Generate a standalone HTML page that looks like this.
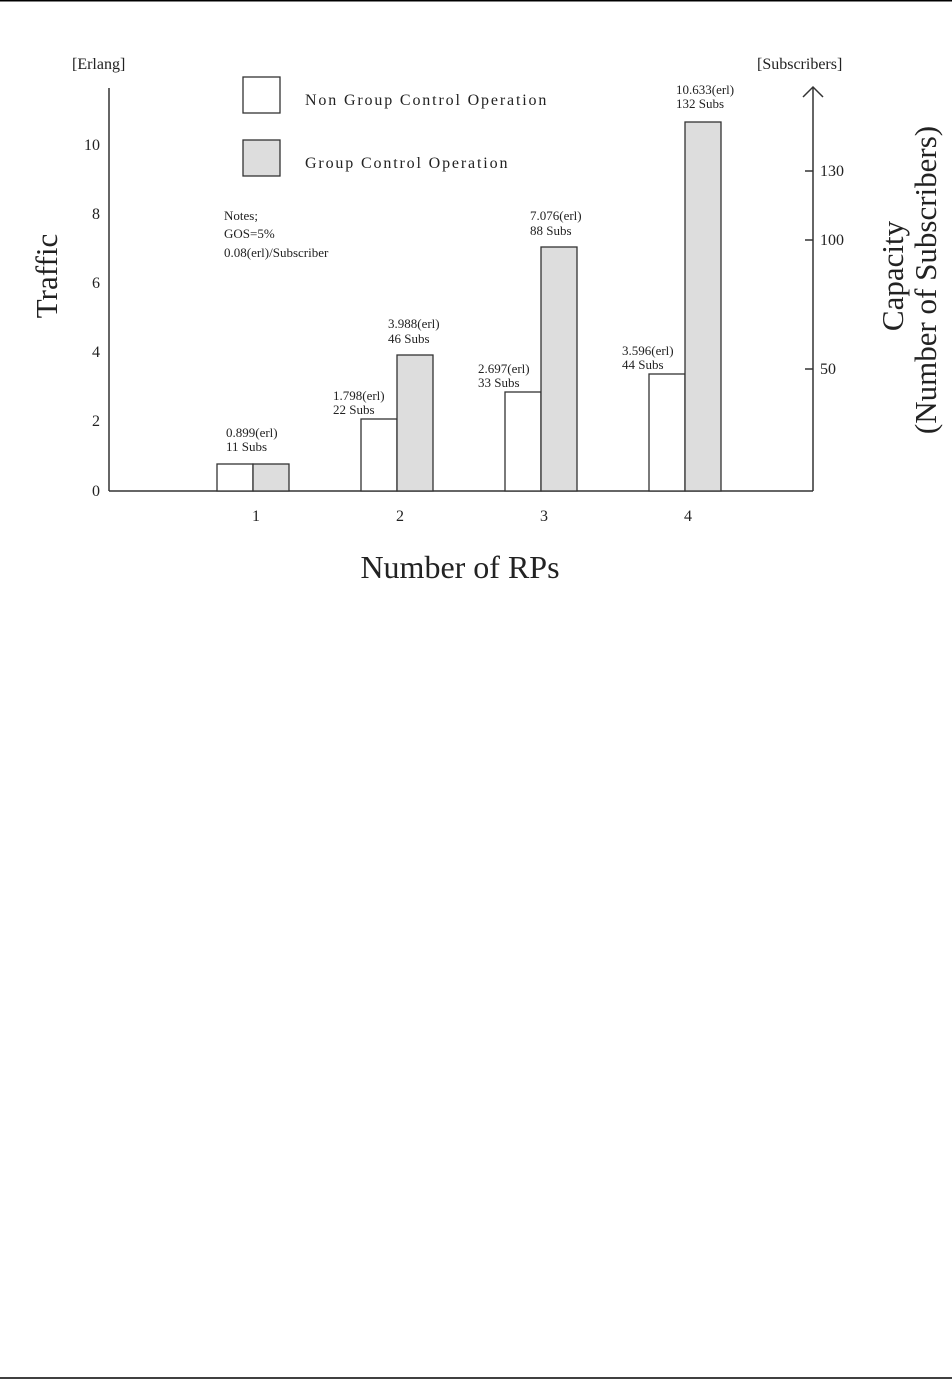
<!DOCTYPE html>
<html><head><meta charset="utf-8"><style>
html,body{margin:0;padding:0;background:#fff;}
</style></head><body>
<svg width="952" height="1381" viewBox="0 0 952 1381" xmlns="http://www.w3.org/2000/svg" font-family="Liberation Serif, serif" fill="#222">
<line x1="0" y1="0.5" x2="952" y2="0.5" stroke="#000" stroke-width="2"/>
<line x1="0" y1="1378" x2="952" y2="1378" stroke="#000" stroke-width="1.5"/>
<g stroke="#333" stroke-width="1.5" fill="none">
<line x1="109" y1="88" x2="109" y2="491"/>
<line x1="109" y1="491" x2="813" y2="491"/>
<line x1="813" y1="87" x2="813" y2="491"/>
<polyline points="803,97 813,87 823,97"/>
<line x1="805" y1="369" x2="813" y2="369"/>
<line x1="805" y1="240" x2="813" y2="240"/>
<line x1="805" y1="171" x2="813" y2="171"/>
</g>
<g stroke="#333" stroke-width="1.3">
<rect x="243" y="77" width="37" height="36" fill="#fff"/>
<rect x="243" y="140" width="37" height="36" fill="#ddd"/>
<rect x="217" y="464" width="36" height="27" fill="#fff"/>
<rect x="253" y="464" width="36" height="27" fill="#ddd"/>
<rect x="361" y="419" width="36" height="72" fill="#fff"/>
<rect x="397" y="355" width="36" height="136" fill="#ddd"/>
<rect x="505" y="392" width="36" height="99" fill="#fff"/>
<rect x="541" y="247" width="36" height="244" fill="#ddd"/>
<rect x="649" y="374" width="36" height="117" fill="#fff"/>
<rect x="685" y="122" width="36" height="369" fill="#ddd"/>
</g>
<g font-size="16">
<text x="72" y="69">[Erlang]</text>
<text x="757" y="69">[Subscribers]</text>
<text x="305" y="105" letter-spacing="1.85">Non Group Control Operation</text>
<text x="305" y="168" letter-spacing="1.85">Group Control Operation</text>
<g text-anchor="end"><text x="100" y="150">10</text><text x="100" y="219">8</text><text x="100" y="288">6</text><text x="100" y="357">4</text><text x="100" y="426">2</text><text x="100" y="496">0</text></g>
<text x="820" y="176">130</text><text x="820" y="245">100</text><text x="820" y="374">50</text>
<g text-anchor="middle"><text x="256" y="521">1</text><text x="400" y="521">2</text><text x="544" y="521">3</text><text x="688" y="521">4</text></g>
</g>
<g font-size="13">
<text x="224" y="220">Notes;</text><text x="224" y="238">GOS=5%</text><text x="224" y="257">0.08(erl)/Subscriber</text>
<text x="226" y="437">0.899(erl)</text><text x="226" y="451">11 Subs</text>
<text x="333" y="400">1.798(erl)</text><text x="333" y="414">22 Subs</text>
<text x="388" y="328">3.988(erl)</text><text x="388" y="343">46 Subs</text>
<text x="478" y="373">2.697(erl)</text><text x="478" y="387">33 Subs</text>
<text x="530" y="220">7.076(erl)</text><text x="530" y="235">88 Subs</text>
<text x="622" y="355">3.596(erl)</text><text x="622" y="369">44 Subs</text>
<text x="676" y="94">10.633(erl)</text><text x="676" y="108">132 Subs</text>
</g>
<text x="460" y="578" font-size="32" text-anchor="middle">Number of RPs</text>
<text transform="translate(57,276) rotate(-90)" font-size="31" text-anchor="middle">Traffic</text>
<text transform="translate(903,276) rotate(-90)" font-size="31" text-anchor="middle">Capacity</text>
<text transform="translate(936,280) rotate(-90)" font-size="31" text-anchor="middle">(Number of Subscribers)</text>
</svg>
</body></html>
